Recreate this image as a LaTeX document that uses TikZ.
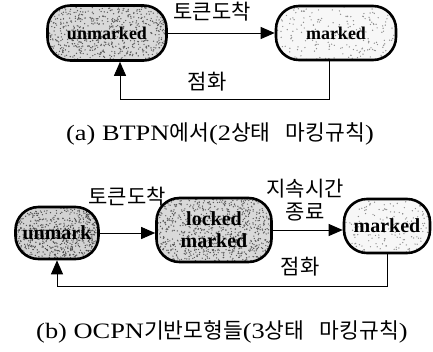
\documentclass[tikz,border=0pt]{standalone}
\usepackage{fontspec}
\setmainfont{Liberation Serif}
\newfontfamily\kr{Noto Sans CJK KR}
\newfontfamily\capfont[FakeStretch=1.2]{Liberation Serif}
\usetikzlibrary{arrows.meta}
\begin{document}
\begin{tikzpicture}[x=1pt,y=-1pt,
  state/.style={draw, line width=2.6pt, rounded corners=23pt, align=center,
    inner sep=0pt, font=\fontsize{18}{20}\selectfont\bfseries},
  bigstate/.style={state, font=\fontsize{20}{22}\selectfont\bfseries},
  % grainy fill: #1,#2 half size, #3 dot count, #4 dot colour
  speckle/.style n args={4}{path picture={
    \foreach \i in {1,...,#3}{
      \fill[#4] ([shift={(rand*#1,rand*#2)}]path picture bounding box.center) circle (0.7);}}},
  flow/.style={line width=0.9pt, -{Triangle[length=14pt,width=12pt]}},
  lbl/.style={font=\kr\fontsize{21}{23}\selectfont, align=center, inner sep=0pt},
  captext/.style={font=\capfont\fontsize{22}{24}\selectfont, inner sep=0pt}]
\newcommand\hg[1]{{\kr\fontsize{21.5}{24}\selectfont #1}}
\pgfmathsetseed{11}
\useasboundingbox (0,0) rectangle (433,351);

% (a) two-state marking
\node[state, minimum width=119, minimum height=55, fill=gray!30,
      speckle={60}{28}{700}{black!65}] (u1) at (107,33) {unmarked};
\node[state, minimum width=120, minimum height=54, fill=gray!6,
      speckle={60}{27}{220}{black!45}] (m1) at (336,33) {marked};
\draw[flow] (u1.east) -- (m1.west);
\node[lbl] (t1) at (212,12) {토큰도착};
\coordinate (f1) at (120,99);
\draw[flow] ([xshift=-7pt]m1.south) |- (f1) -- ([xshift=13pt]u1.south);
\node[lbl] (s1) at (207,82) {점화};
\node[captext] (ca) at (220,134) {(a) BTPN\hg{에서}(2\hg{상태}\hspace{0.7em}\hg{마킹규칙})};

% (b) three-state marking
\node[bigstate, minimum width=83, minimum height=52, fill=gray!35,
      speckle={42}{26}{650}{black!70}] (u2) at (57,233) {unmark};
\node[bigstate, minimum width=115, minimum height=64, fill=gray!30,
      speckle={58}{32}{900}{black!65}] (l2) at (214,230) {locked\\marked};
\node[bigstate, minimum width=86, minimum height=54, fill=gray!6,
      speckle={43}{27}{170}{black!45}] (m2) at (387,226) {marked};
\draw[flow] (u2.east) -- (u2.east -| l2.west);
\draw[flow] (l2.east) -- (l2.east -| m2.west);
\node[lbl] (t2) at (127,197) {토큰도착};
\node[lbl] (d2) at (305,200) {지속시간\\종료};
\coordinate (f2) at (57,286);
\draw[flow] (m2.south) |- (f2) -- (u2.south);
\node[lbl] (s2) at (300,267) {점화};
\node[captext] (cb) at (222,332) {(b) OCPN\hg{기반모형들}(3\hg{상태}\hspace{0.7em}\hg{마킹규칙})};
\end{tikzpicture}
\end{document}
